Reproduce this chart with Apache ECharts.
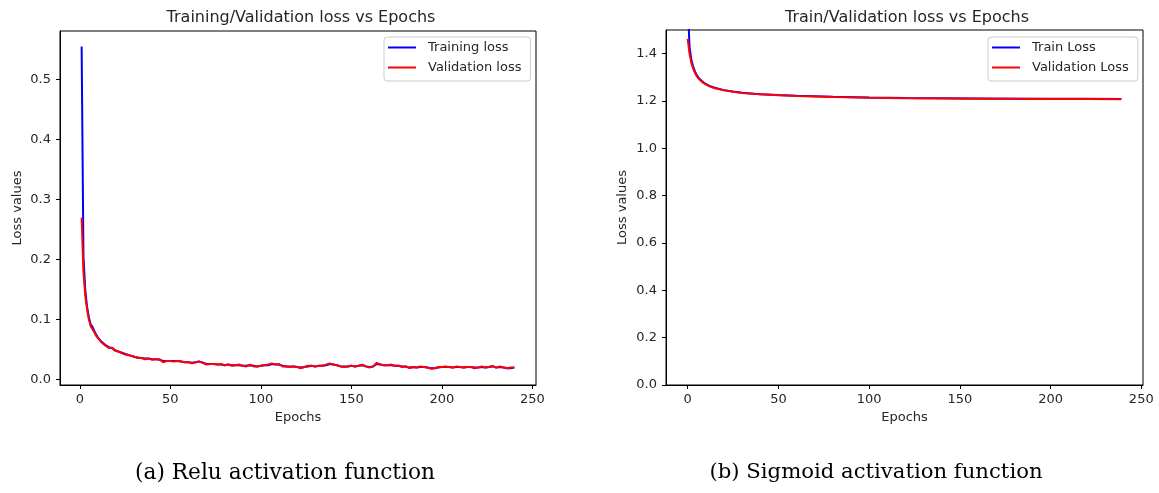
<!DOCTYPE html>
<html>
<head>
<meta charset="utf-8">
<script src="https://cdn.jsdelivr.net/npm/echarts@6/dist/echarts.min.js"></script>
<style>
html,body{margin:0;padding:0;background:#fff;}
#c{width:1159px;height:493px;}
</style>
</head>
<body>
<div id="c"></div>
<script>
// ---- Relu chart data ----
const reluEpochs = [1,2,3,4,5,6,7,8,9,10,11,12,13,14,15,16,17,18,19,20,
22,24,26,28,30,32,34,36,38,40,42,44,46,48,50,52,54,56,58,60,
62,64,66,68,70,72,74,76,78,80,82,84,86,88,90,92,94,96,98,100,
102,104,106,108,110,112,114,116,118,120,122,124,126,128,130,132,134,136,138,140,
142,144,146,148,150,152,154,156,158,160,162,164,166,168,170,172,174,176,178,180,
182,184,186,188,190,192,194,196,198,200,202,204,206,208,210,212,214,216,218,220,
222,224,226,228,230,232,234,236,238,240];
const reluTrain = [0.555,0.205,0.150,0.121,0.104,0.092,0.088,0.081,0.075,0.070,0.067,0.063,0.061,0.058,0.055,0.054,0.053,0.052,0.050,0.048,
0.046,0.044,0.042,0.040,0.038,0.037,0.036,0.035,0.035,0.034,0.034,0.033,0.031,0.031,0.031,0.031,0.031,0.030,0.029,0.029,
0.028,0.029,0.030,0.028,0.026,0.026,0.026,0.025,0.025,0.024,0.025,0.024,0.024,0.024,0.023,0.023,0.024,0.023,0.022,0.023,
0.024,0.024,0.026,0.025,0.025,0.023,0.022,0.022,0.022,0.021,0.020,0.021,0.022,0.023,0.022,0.023,0.023,0.024,0.026,0.025,
0.024,0.022,0.022,0.022,0.023,0.022,0.023,0.024,0.022,0.021,0.022,0.026,0.025,0.024,0.024,0.024,0.023,0.023,0.022,0.022,
0.020,0.021,0.020,0.021,0.021,0.020,0.019,0.019,0.020,0.021,0.021,0.021,0.020,0.021,0.021,0.020,0.021,0.021,0.020,0.020,
0.021,0.020,0.021,0.022,0.020,0.021,0.020,0.019,0.019,0.020];
const reluVal = [0.270,0.180,0.140,0.117,0.100,0.089,0.086,0.079,0.073,0.069,0.066,0.062,0.060,0.057,0.054,0.053,0.052,0.053,0.049,0.047,
0.046,0.043,0.041,0.040,0.038,0.036,0.036,0.034,0.035,0.033,0.034,0.034,0.029,0.031,0.031,0.030,0.031,0.030,0.029,0.029,
0.027,0.029,0.030,0.028,0.025,0.026,0.026,0.025,0.026,0.024,0.025,0.023,0.024,0.025,0.023,0.022,0.025,0.022,0.022,0.023,
0.024,0.025,0.027,0.025,0.026,0.022,0.022,0.021,0.022,0.021,0.019,0.021,0.023,0.023,0.022,0.023,0.023,0.025,0.027,0.025,
0.024,0.022,0.021,0.022,0.023,0.022,0.023,0.025,0.022,0.020,0.022,0.028,0.025,0.024,0.024,0.025,0.023,0.023,0.021,0.022,
0.019,0.021,0.020,0.022,0.021,0.020,0.018,0.019,0.021,0.021,0.022,0.021,0.020,0.022,0.021,0.020,0.021,0.021,0.019,0.020,
0.022,0.020,0.021,0.023,0.020,0.022,0.020,0.019,0.020,0.020];

// ---- Sigmoid chart data ----
const sigEpochs = [0,1,2,3,4,5,6,7,8,9,10,12,15,20,25,30,40,50,60,80,100,120,140,160,180,200,220,239];
const sigTrain = [1.620,1.430,1.375,1.345,1.325,1.310,1.299,1.290,1.283,1.277,1.272,1.264,1.256,1.246,1.240,1.235,1.229,1.225,1.222,1.218,1.215,1.213,1.212,1.211,1.210,1.209,1.209,1.208];
const sigVal = [1.462,1.400,1.362,1.337,1.319,1.305,1.295,1.287,1.280,1.275,1.270,1.262,1.254,1.245,1.239,1.234,1.228,1.224,1.221,1.217,1.214,1.212,1.211,1.210,1.209,1.208,1.208,1.207];

// ---- tick labels ----
const xTicks = [0,50,100,150,200,250];
const reluYTicks = [0,0.1,0.2,0.3,0.4,0.5];
const sigYTicks = [0,0.2,0.4,0.6,0.8,1.0,1.2,1.4];

const titles = ['Training/Validation loss vs Epochs','Train/Validation loss vs Epochs'];
const captions = ['(a) Relu activation function','(b) Sigmoid activation function'];
const legendNames = [['Training loss','Validation loss'],['Train Loss','Validation Loss']];

function pairs(xs, ys){ return xs.map((x,i)=>[x, ys[i]]); }

const FONT = 'DejaVu Sans';
const TXT = '#262626';
const lblSize = 13;

function xAx(gi, min, max){
  return {
    type:'value', gridIndex:gi, min:min, max:max,
    name:'Epochs', nameLocation:'middle', nameGap:24,
    nameTextStyle:{fontFamily:FONT, fontSize:lblSize, color:TXT},
    axisLine:{show:true, onZero:false, lineStyle:{color:'#000', width:1}},
    axisTick:{show:true, length:4, lineStyle:{color:'#000'}, customValues:xTicks},
    axisLabel:{customValues:xTicks, fontFamily:FONT, fontSize:lblSize, color:TXT, margin:8},
    splitLine:{show:false}
  };
}
function yAx(gi, min, max, ticks, gap){
  return {
    type:'value', gridIndex:gi, min:min, max:max,
    name:'Loss values', nameLocation:'middle', nameGap:gap, nameRotate:90,
    nameTextStyle:{fontFamily:FONT, fontSize:lblSize, color:TXT},
    axisLine:{show:true, onZero:false, lineStyle:{color:'#000', width:1}},
    axisTick:{show:true, length:4, lineStyle:{color:'#000'}, customValues:ticks},
    axisLabel:{customValues:ticks, fontFamily:FONT, fontSize:lblSize, color:TXT, margin:9,
      formatter:(v)=>Number(v).toFixed(1)},
    splitLine:{show:false}
  };
}
function legend(gi, left){
  return {
    show:true, orient:'vertical', left:left, top:37,
    data:legendNames[gi].map(n=>({name:n, icon:'rect'})),
    itemWidth:28, itemHeight:2, itemGap:5,
    padding:[3,9,6,4],
    backgroundColor:'#fff', borderColor:'#cccccc', borderWidth:1, borderRadius:3,
    textStyle:{fontFamily:FONT, fontSize:lblSize, color:TXT, lineHeight:15, padding:[0,0,0,7]},
    selectedMode:false
  };
}
function line(name, xi, data, color, z){
  return {
    type:'line', name:name, xAxisIndex:xi, yAxisIndex:xi,
    data:data, symbol:'none', showSymbol:false, z:z,
    lineStyle:{color:color, width:2}, itemStyle:{color:color},
    emphasis:{disabled:true}, clip:true, animation:false
  };
}

const chart = echarts.init(document.getElementById('c'), null, {renderer:'canvas'});
chart.setOption({
  backgroundColor:'#fff',
  animation:false,
  title:[
    {text:titles[0], left:296, top:5, textAlign:'center',
     textStyle:{fontFamily:FONT, fontSize:16, fontWeight:'normal', color:TXT}},
    {text:titles[1], left:902, top:5, textAlign:'center',
     textStyle:{fontFamily:FONT, fontSize:16, fontWeight:'normal', color:TXT}},
    {text:captions[0], left:280, top:457, textAlign:'center',
     textStyle:{fontFamily:'DejaVu Serif', fontSize:21.7, fontWeight:'normal', color:'#000'}},
    {text:captions[1], left:871, top:457, textAlign:'center',
     textStyle:{fontFamily:'DejaVu Serif', fontSize:21.2, fontWeight:'normal', color:'#000'}}
  ],
  grid:[
    {left:60, top:31, width:476, height:354, show:true, borderColor:'#000', borderWidth:1, backgroundColor:'transparent', containLabel:false},
    {left:666, top:30, width:477, height:355, show:true, borderColor:'#000', borderWidth:1, backgroundColor:'transparent', containLabel:false}
  ],
  xAxis:[ xAx(0, -10.95, 251.95), xAx(1, -11.95, 250.95) ],
  yAxis:[ yAx(0, -0.009, 0.581, reluYTicks, 36), yAx(1, 0, 1.5, sigYTicks, 37) ],
  legend:[ legend(0, 384), legend(1, 988) ],
  series:[
    line(legendNames[0][0], 0, pairs(reluEpochs, reluTrain), '#0000ff', 2),
    line(legendNames[0][1], 0, pairs(reluEpochs, reluVal), '#ff0000', 3),
    line(legendNames[1][0], 1, pairs(sigEpochs, sigTrain), '#0000ff', 2),
    line(legendNames[1][1], 1, pairs(sigEpochs, sigVal), '#ff0000', 3)
  ]
});
</script>
</body>
</html>
